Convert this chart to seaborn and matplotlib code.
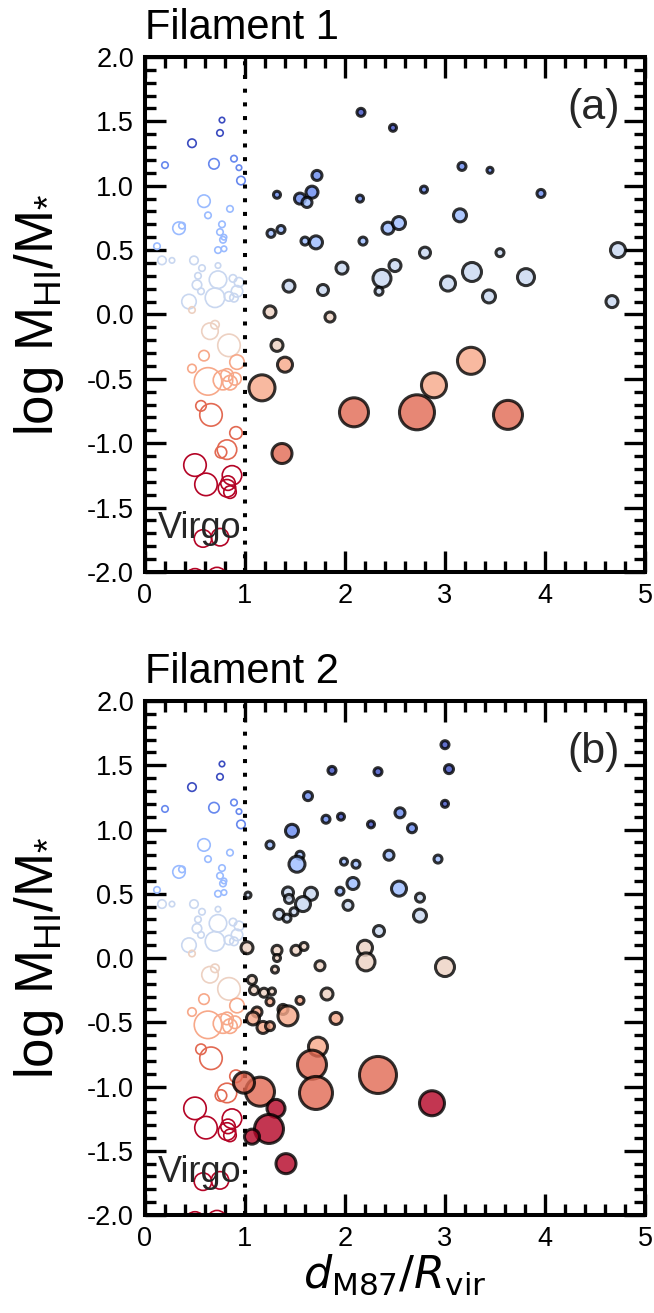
import matplotlib
matplotlib.use("Agg")
import matplotlib.pyplot as plt
import numpy as np
import pandas as pd
import seaborn as sns
from matplotlib.ticker import MultipleLocator, FormatStrFormatter

# ---------------------------------------------------------------------------
# Data: distance from M87 (in units of R_vir), log HI gas fraction,
# marker diameter (px) and HI-fraction colour class (0 = gas rich ... 7 = gas poor)
# ---------------------------------------------------------------------------
# Virgo cluster members (drawn as open circles in both panels)
virgo_d = [0.77, 0.75, 0.47, 0.20, 0.69, 0.89, 0.94, 0.96, 0.59, 0.85, 0.63, 0.34, 0.37,
           0.77, 0.75, 0.78, 0.79, 0.73, 0.79, 0.12, 0.17, 0.27, 0.49, 0.57, 0.73, 0.53,
           0.73, 0.88, 0.94, 0.52, 0.56, 0.70, 0.92, 0.84, 0.89, 0.44, 0.47, 0.65, 0.70,
           0.84, 0.59, 0.92, 0.47, 0.63, 0.78, 0.82, 0.85, 0.90, 0.56, 0.66, 0.91, 0.82,
           0.76, 0.50, 0.61, 0.87, 0.83, 0.82, 0.85, 0.58, 0.75, 0.50, 0.72]
virgo_f = [1.51, 1.41, 1.33, 1.16, 1.17, 1.21, 1.14, 1.04, 0.88, 0.82, 0.77, 0.67, 0.69,
           0.70, 0.64, 0.58, 0.60, 0.50, 0.51, 0.53, 0.42, 0.42, 0.42, 0.36, 0.38, 0.30,
           0.27, 0.28, 0.25, 0.23, 0.18, 0.13, 0.18, 0.14, 0.13, 0.10, 0.035, -0.13, -0.08,
           -0.24, -0.32, -0.37, -0.42, -0.52, -0.51, -0.47, -0.53, -0.50, -0.71, -0.78,
           -0.92, -1.05, -1.07, -1.17, -1.32, -1.25, -1.31, -1.35, -1.38, -1.74, -1.73,
           -2.05, -2.04]
virgo_m = [7, 8, 10, 8, 12, 8, 7, 10, 14, 8, 8, 14, 8, 8, 8, 8, 7, 8, 7, 8, 10, 7, 10, 8, 7,
           8, 19, 9, 11, 11, 8, 21, 13, 11, 10, 16, 8, 18, 10, 24, 12, 16, 10, 29, 21, 14,
           16, 14, 12, 24, 14, 21, 13, 24, 24, 21, 16, 19, 14, 19, 19, 21, 21]
virgo_c = [0, 0, 0, 1, 1, 1, 1, 1, 2, 2, 2, 2, 2, 2, 2, 2, 2, 2, 2, 2, 3, 3, 3, 3, 3, 3,
           3, 3, 3, 3, 3, 3, 3, 3, 3, 3, 4, 4, 4, 4, 5, 5, 5, 5, 5, 5, 5, 5, 6, 6, 6, 6, 6,
           7, 7, 7, 7, 7, 7, 7, 7, 7, 7]

# Filament 1 galaxies
fil1_d = [2.16, 2.48, 3.17, 3.45, 1.72, 1.32, 1.55, 1.67, 1.62, 2.15, 2.79, 3.96, 3.15,
          1.26, 1.36, 1.60, 1.71, 2.18, 2.43, 2.54, 2.80, 3.55, 4.73, 1.97, 2.50, 2.37,
          2.34, 1.44, 1.78, 3.03, 3.27, 3.81, 3.44, 4.67, 1.25, 1.85, 1.32, 1.40, 1.17,
          2.89, 3.26, 2.09, 2.72, 3.63, 1.37]
fil1_f = [1.57, 1.45, 1.15, 1.12, 1.08, 0.93, 0.90, 0.95, 0.87, 0.90, 0.97, 0.94, 0.77,
          0.63, 0.66, 0.57, 0.56, 0.57, 0.67, 0.71, 0.48, 0.48, 0.50, 0.36, 0.38, 0.28,
          0.18, 0.22, 0.19, 0.24, 0.33, 0.29, 0.14, 0.10, 0.02, -0.02, -0.24, -0.39,
          -0.57, -0.55, -0.36, -0.76, -0.76, -0.78, -1.08]
fil1_m = [11, 10, 11, 9, 13, 10, 14, 15, 13, 10, 10, 11, 16, 11, 11, 11, 16, 11, 15, 16,
          14, 11, 18, 15, 15, 21, 11, 15, 14, 18, 22, 20, 16, 15, 15, 13, 15, 18, 29, 28,
          30, 32, 38, 32, 23]
fil1_c = [0, 0, 1, 1, 1, 1, 1, 1, 2, 1, 1, 1, 2, 2, 2, 2, 2, 2, 2, 2, 3, 3, 3, 3, 3, 3,
          3, 3, 3, 3, 3, 3, 3, 3, 4, 4, 4, 5, 5, 5, 5, 6, 6, 6, 6]

# Filament 2 galaxies
fil2_d = [3.00, 3.04, 1.87, 2.33, 1.63, 3.00, 2.55, 1.81, 1.96, 2.26, 2.67, 1.47, 1.25,
          1.55, 1.52, 2.44, 2.93, 1.99, 2.11, 2.08, 2.54, 2.75, 2.75, 1.95, 1.66, 1.43,
          1.44, 1.58, 2.03, 1.34, 1.42, 1.49, 2.34, 1.03, 1.02, 1.32, 1.32, 1.51, 1.59,
          2.20, 2.21, 3.00, 1.75, 1.30, 1.07, 1.09, 1.19, 1.27, 1.25, 1.55, 1.82, 1.91,
          1.12, 1.08, 1.18, 1.25, 1.38, 1.43, 1.73, 1.67, 1.71, 2.33, 1.15, 0.99, 1.31,
          1.24, 1.07, 2.87, 1.41]
fil2_f = [1.66, 1.47, 1.46, 1.45, 1.26, 1.20, 1.13, 1.08, 1.10, 1.04, 1.01, 0.99, 0.88,
          0.80, 0.73, 0.80, 0.77, 0.75, 0.73, 0.58, 0.54, 0.47, 0.33, 0.52, 0.50, 0.51,
          0.46, 0.42, 0.41, 0.34, 0.31, 0.36, 0.21, 0.49, 0.08, 0.06, 0.00, 0.06, 0.09,
          0.08, -0.03, -0.07, -0.06, -0.09, -0.17, -0.25, -0.27, -0.26, -0.34, -0.33,
          -0.28, -0.47, -0.42, -0.47, -0.54, -0.53, -0.40, -0.45, -0.69, -0.83, -1.05,
          -0.91, -1.04, -0.97, -1.17, -1.33, -1.39, -1.13, -1.60]
fil2_m = [11, 12, 11, 11, 12, 10, 13, 11, 10, 10, 12, 16, 11, 11, 19, 13, 11, 10, 11, 15,
          18, 12, 16, 11, 16, 14, 12, 18, 13, 13, 11, 11, 14, 9, 15, 13, 10, 13, 11, 18,
          21, 22, 13, 10, 12, 12, 12, 10, 11, 11, 15, 15, 13, 16, 15, 12, 13, 23, 22, 32,
          36, 40, 32, 24, 21, 32, 18, 28, 23]
fil2_c = [0, 0, 0, 0, 1, 0, 1, 1, 0, 0, 1, 1, 2, 2, 2, 2, 2, 2, 2, 2, 2, 3, 3, 2, 3, 3,
          3, 3, 3, 3, 3, 3, 3, 3, 4, 4, 4, 4, 4, 4, 4, 4, 4, 4, 4, 4, 4, 4, 5, 5, 4, 5, 5,
          5, 5, 5, 5, 5, 5, 6, 6, 6, 6, 6, 7, 7, 7, 7, 7]

filaments = [("Filament 1", "(a)", fil1_d, fil1_f, fil1_m, fil1_c),
             ("Filament 2", "(b)", fil2_d, fil2_f, fil2_m, fil2_c)]

# ---------------------------------------------------------------------------
sns.set_theme(style="ticks")
plt.rcParams["font.family"] = ["Liberation Sans", "DejaVu Sans"]
plt.rcParams["axes.unicode_minus"] = False
plt.rcParams["mathtext.fontset"] = "custom"
plt.rcParams["mathtext.rm"] = "Liberation Sans"
plt.rcParams["mathtext.it"] = "Liberation Sans:italic"

cmap = matplotlib.colormaps["coolwarm_r"]
palette = {k: cmap(1 - k / 7) for k in range(8)}

PX = 72 / 100  # points per pixel at dpi=100


def make_frame(d, f, m, c, lw_px):
    df = pd.DataFrame({"d": d, "f": f, "m": m, "c": c})
    df["area"] = ((np.asarray(m, float) - lw_px).clip(3) * PX) ** 2
    return df


virgo = make_frame(virgo_d, virgo_f, virgo_m, virgo_c, 1.5)

fig = plt.figure(figsize=(6.54, 13.13), dpi=100)
ax_a = fig.add_axes([0.2217, 0.5644, 0.7645, 0.3922])
ax_b = fig.add_axes([0.2217, 0.0746, 0.7645, 0.3915])

for ax, (title, tag, d, f, m, c) in zip([ax_a, ax_b], filaments):
    # Virgo members: open circles coloured by gas-fraction class
    sns.scatterplot(data=virgo, x="d", y="f", hue="c", palette=palette,
                    size="area", sizes=(virgo["area"].min(), virgo["area"].max()),
                    size_norm=(virgo["area"].min(), virgo["area"].max()),
                    legend=False, ax=ax, linewidth=1.2, zorder=2)
    coll = ax.collections[-1]
    coll.set_edgecolors(coll.get_facecolors())
    coll.set_facecolors("none")

    # Filament galaxies: filled translucent circles with dark rims
    fil = make_frame(d, f, m, c, 3.0)
    sns.scatterplot(data=fil, x="d", y="f", hue="c", palette=palette,
                    size="area", sizes=(fil["area"].min(), fil["area"].max()),
                    size_norm=(fil["area"].min(), fil["area"].max()),
                    legend=False, ax=ax, edgecolor="black", linewidth=2.2,
                    alpha=0.8, zorder=3)

    # Virial radius of Virgo
    ax.axvline(1.0, color="black", lw=2.9, ls=(0, (1, 2.4)), zorder=2.5)
    ax.text(0.13, -1.74, "Virgo", fontsize=26, ha="left", va="baseline", zorder=5)
    ax.text(0.95, 0.94, tag, transform=ax.transAxes, ha="right", va="top", fontsize=31)

    ax.set_xlim(0, 5)
    ax.set_ylim(-2, 2)
    ax.xaxis.set_major_locator(MultipleLocator(1))
    ax.xaxis.set_minor_locator(MultipleLocator(0.2))
    ax.yaxis.set_major_locator(MultipleLocator(0.5))
    ax.yaxis.set_minor_locator(MultipleLocator(0.1))
    ax.xaxis.set_major_formatter(FormatStrFormatter("%d"))
    ax.yaxis.set_major_formatter(FormatStrFormatter("%.1f"))
    ax.tick_params(which="both", direction="in", top=True, right=True,
                   width=2.4, color="black", labelsize=19.5, labelcolor="black")
    ax.tick_params(which="major", length=15, pad=8)
    ax.tick_params(which="minor", length=8)
    for sp in ax.spines.values():
        sp.set_linewidth(2.9)
        sp.set_color("black")

    ax.set_title(title, loc="left", fontsize=30, pad=13, color="black")
    ax.set_ylabel(r"log M$_{\rm HI}$/M$_{*}$", fontsize=38, labelpad=15, color="black")
    ax.set_xlabel("")

ax_b.set_xlabel(r"$d_{\rm M87}/R_{\rm vir}$", fontsize=32, labelpad=0,
                math_fontfamily="dejavusans", color="black")

fig.savefig("out.png", dpi=100)
